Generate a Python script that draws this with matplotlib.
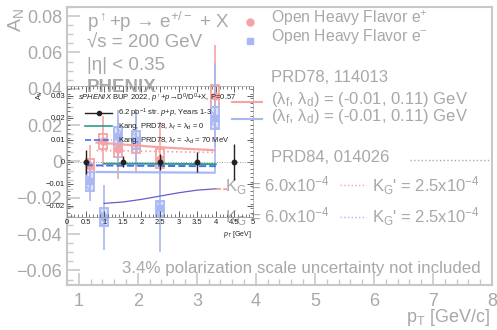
import numpy as np
import matplotlib.pyplot as plt

plt.rcParams['font.family'] = ['Liberation Sans', 'DejaVu Sans']
plt.rcParams['mathtext.fontset'] = 'custom'
plt.rcParams['mathtext.rm'] = 'Liberation Sans'
plt.rcParams['mathtext.it'] = 'Liberation Sans:italic'
plt.rcParams['mathtext.bf'] = 'Liberation Sans:bold'

W, H = 497, 330

# faded PHENIX measurement (main plot)
pt_pos = [1.19, 1.41, 1.66, 1.97, 2.38, 3.31]
an_pos = [-0.0027, 0.011, 0.0066, 0.0099, 0.0016, 0.036]
err_pos = [0.012, 0.014, 0.016, 0.016, 0.02, 0.028]
sys_pos = [0.004, 0.004, 0.004, 0.005, 0.005, 0.006]

pt_neg = [1.19, 1.43, 1.66, 1.97, 2.38, 3.31]
an_neg = [-0.011, -0.0307, 0.0142, 0.012, -0.0258, 0.024]
err_neg = [0.011, 0.018, 0.014, 0.015, 0.024, 0.03]
sys_neg = [0.005, 0.005, 0.005, 0.005, 0.004, 0.006]

# faded theory curves (main plot)
th_pt = [1.3, 1.8, 2.3, 2.8, 3.3]
th78_pos = [0.0104, 0.0092, 0.0080, 0.0070, 0.0062]
th78_neg = [-0.0058, -0.0059, -0.0060, -0.0061, -0.0062]
th84_pos = [0.0060, 0.0058, 0.0055, 0.0052, 0.0050]

# sPHENIX projection (inset)
sp_pt = [0.5, 1.5, 2.5, 3.5, 4.5]
sp_an = [0, 0, 0, 0, 0]
sp_err = [0.0055, 0.0025, 0.0035, 0.0045, 0.008]

kang_pt = [1.0, 2.0, 3.0, 4.0]
kang0 = [-0.0008, -0.0008, -0.0009, -0.0010]
kang_pt70 = [0.5, 1.5, 2.5, 3.5, 4.0]
kang70 = [-0.0015, -0.0017, -0.0018, -0.0019, -0.0019]
curve_pt = [1.0, 1.5, 2.0, 2.5, 3.0, 3.5, 4.0]
curve_an = [-0.0188, -0.0182, -0.0170, -0.0155, -0.0140, -0.0128, -0.0122]

grey = '#a8a8a8'
pink = '#f4a4a4'
lblue = '#a8b8f4'


def fx(px):
    return px / W


def fy(py):
    return 1 - py / H


fig = plt.figure(figsize=(W / 100, H / 100), dpi=100)

# ---------------- main (faded) plot
ax = fig.add_axes([fx(67), fy(285), fx(492) - fx(67), fy(7) - fy(285)])
ax.set_xlim(0.8, 8)
ax.set_ylim(-0.068, 0.0845)
for s in ax.spines.values():
    s.set_color('#c8c8c8')
    s.set_linewidth(1.5)
ax.set_xticks(range(1, 9))
ax.set_xticks(np.arange(0.8, 8.01, 0.2), minor=True)
ax.set_yticks([-0.06, -0.04, -0.02, 0, 0.02, 0.04, 0.06, 0.08])
ax.set_yticklabels(['\u22120.06', '\u22120.04', '\u22120.02', '0', '0.02', '0.04', '0.06', '0.08'])
ax.set_yticks(np.arange(-0.065, 0.085, 0.005), minor=True)
ax.tick_params(which='both', direction='in', colors='#c8c8c8', labelcolor=grey,
               labelsize=13, top=False, right=False)
ax.tick_params(which='major', length=9, width=1.2)
ax.tick_params(which='minor', length=4.5, width=1.0)
ax.tick_params(axis='x', pad=6)

for x, y, e, s in zip(pt_pos, an_pos, err_pos, sys_pos):
    ax.add_patch(plt.Rectangle((x - 0.07, y - s), 0.14, 2 * s, fill=False,
                               edgecolor=pink, lw=1.3))
ax.errorbar(pt_pos, an_pos, yerr=err_pos, fmt='o', color=pink, ms=5, lw=1.2)
for x, y, e, s in zip(pt_neg, an_neg, err_neg, sys_neg):
    ax.add_patch(plt.Rectangle((x - 0.07, y - s), 0.14, 2 * s, fill=True,
                               facecolor='#dde4fb', edgecolor=lblue, lw=1.3,
                               hatch='\\\\\\'))
ax.errorbar(pt_neg, an_neg, yerr=err_neg, fmt='s', color=lblue, ms=5, lw=1.2)

ax.plot(th_pt, th78_pos, color=pink, lw=1.6)
ax.plot(th_pt, th78_neg, color=lblue, lw=1.6)
ax.plot(th_pt, th84_pos, color=pink, lw=1.2, ls=':')

ax.text(fx(6), fy(20), 'A$_\\mathregular{N}$', transform=fig.transFigure, rotation=90,
        color=grey, fontsize=14, ha='left', va='center')
ax.text(fx(490), fy(318), 'p$_\\mathregular{T}$ [GeV/c]', transform=fig.transFigure,
        color=grey, fontsize=13, ha='right', va='center')

big = dict(transform=fig.transFigure, color=grey, fontsize=13.5, va='center', ha='left')
ax.text(fx(87), fy(22), 'p$^{\\uparrow}$+p \u2192 e$^{+/-}$ + X', **big)
ax.text(fx(87), fy(43), '\u221As = 200 GeV', **big)
ax.text(fx(87), fy(65), '|\u03b7| < 0.35', **big)
ax.text(fx(87), fy(87), 'PHENIX', fontweight='bold', **big)

leg = dict(transform=fig.transFigure, color=grey, fontsize=11.3, va='center', ha='left')
leg2 = dict(leg, fontsize=12)
fig.lines.append(plt.Line2D([fx(250)], [fy(22)], marker='o', color=pink, ms=5,
                            transform=fig.transFigure))
fig.lines.append(plt.Line2D([fx(250)], [fy(41)], marker='s', color=lblue, ms=5,
                            transform=fig.transFigure))
ax.text(fx(271), fy(18), 'Open Heavy Flavor e$^{+}$', **leg)
ax.text(fx(271), fy(36), 'Open Heavy Flavor e$^{-}$', **leg)
ax.text(fx(271), fy(78), 'PRD78, 114013', **leg2)
ax.text(fx(271), fy(100), '(\u03bb$_\\mathregular{f}$, \u03bb$_\\mathregular{d}$) = (-0.01, 0.11) GeV', **leg2)
ax.text(fx(271), fy(116), '(\u03bb$_\\mathregular{f}$, \u03bb$_\\mathregular{d}$) = (-0.01, 0.11) GeV', **leg2)
fig.lines.append(plt.Line2D([fx(232), fx(262)], [fy(102), fy(102)], color=pink, lw=1.5,
                            transform=fig.transFigure))
fig.lines.append(plt.Line2D([fx(232), fx(262)], [fy(119), fy(119)], color=lblue, lw=1.5,
                            transform=fig.transFigure))
ax.text(fx(271), fy(157), 'PRD84, 014026', **leg2)
fig.lines.append(plt.Line2D([fx(410), fx(490)], [fy(160), fy(160)], color=grey, lw=1,
                            ls=':', transform=fig.transFigure))
ax.text(fx(225), fy(186), 'K$_\\mathregular{G}$ = 6.0x10$^{-4}$', **leg2)
ax.text(fx(372), fy(186), 'K$_\\mathregular{G}$\' = 2.5x10$^{-4}$', **leg2)
ax.text(fx(225), fy(217), 'K$_\\mathregular{G}$ = 6.0x10$^{-4}$', **leg2)
ax.text(fx(372), fy(217), 'K$_\\mathregular{G}$\' = 2.5x10$^{-4}$', **leg2)
fig.lines.append(plt.Line2D([fx(340), fx(366)], [fy(185), fy(185)], color=pink, lw=1,
                            ls=':', transform=fig.transFigure))
fig.lines.append(plt.Line2D([fx(340), fx(366)], [fy(217), fy(217)], color=lblue, lw=1,
                            ls=':', transform=fig.transFigure))
ax.text(fx(122), fy(268), '3.4% polarization scale uncertainty not included',
        transform=fig.transFigure, color=grey, fontsize=12.2, va='center', ha='left')

# ---------------- sPHENIX inset
ins = fig.add_axes([fx(67), fy(217), fx(253) - fx(67), fy(86) - fy(217)])
ins.patch.set_alpha(0)
ins.set_xlim(0, 5)
ins.set_ylim(-0.025, 0.0345)
for s in ins.spines.values():
    s.set_color('#999999')
    s.set_linewidth(0.6)
    s.set_linestyle(':')
ins.spines['bottom'].set_linestyle('-')
ins.spines['left'].set_linestyle('-')
ins.set_xticks(np.arange(0, 5.01, 0.5))
ins.set_xticklabels(['0', '0.5', '1', '1.5', '2', '2.5', '3', '3.5', '4', '4.5', '5'])
ins.set_xticks(np.arange(0, 5.01, 0.1), minor=True)
ins.set_yticks([-0.02, -0.01, 0, 0.01, 0.02, 0.03])
ins.set_yticklabels(['\u22120.02', '\u22120.01', '0', '0.01', '0.02', '0.03'])
ins.set_yticks(np.arange(-0.025, 0.035, 0.002), minor=True)
ins.tick_params(which='both', direction='in', labelsize=5.5, colors='#444444',
                labelcolor='#222222', pad=1.5, right=True, top=True)
ins.tick_params(which='major', length=4, width=0.6)
ins.tick_params(which='minor', length=2, width=0.5)
ins.axhline(0, color='#999999', lw=0.7, ls=':')

ins.plot(curve_pt, curve_an, color='#6a5acd', lw=0.9)
ins.plot([4.0, 4.3], [-0.0122, -0.0124], color='#f08080', lw=1, ls='--')
ins.plot(kang_pt70, kang70, color='#4a6cf0', lw=1.4, ls='--')
ins.plot(kang_pt, kang0, color='#2a9d8f', lw=1.4)
ins.errorbar(sp_pt, sp_an, yerr=sp_err, fmt='o', color='#222222', ms=3.2, lw=1)

small = dict(transform=fig.transFigure, fontsize=5.5, color='#222222', va='center', ha='left')
ins.text(fx(78), fy(98), '$\\mathbf{\\mathit{sPHENIX}}$ BUP 2022, $p^{\\uparrow}$+$p$\u2192D$^0$/D$^0$+X, P=0.57', **small)
fig.lines.append(plt.Line2D([fx(85), fx(98.5), fx(112)], [fy(113)] * 3, color='#222222', lw=1,
                            marker='o', markevery=[1], ms=3, transform=fig.transFigure))
ins.text(fx(118), fy(113), '6.2 pb$^{-1}$ str. $p$+$p$, Years 1-3', **small)
fig.lines.append(plt.Line2D([fx(85), fx(112)], [fy(126), fy(126)], color='#2a9d8f', lw=1.2,
                            transform=fig.transFigure))
ins.text(fx(118), fy(126), 'Kang, PRD78, \u03bb$_f$ = \u03bb$_d$ = 0', **small)
fig.lines.append(plt.Line2D([fx(85), fx(112)], [fy(140), fy(140)], color='#4a6cf0', lw=1.2,
                            ls='--', transform=fig.transFigure))
ins.text(fx(118), fy(140), 'Kang, PRD78, \u03bb$_f$ = -\u03bb$_d$ = 70 MeV', **small)
ins.text(fx(40), fy(95), 'A$_N$', transform=fig.transFigure, rotation=90, fontsize=5,
         color='#222222', va='center', ha='center')
ins.text(fx(223), fy(234), '$p_T$ [GeV]', transform=fig.transFigure, fontsize=5,
         color='#222222', va='center', ha='left')

fig.savefig('out.png', dpi=100)
